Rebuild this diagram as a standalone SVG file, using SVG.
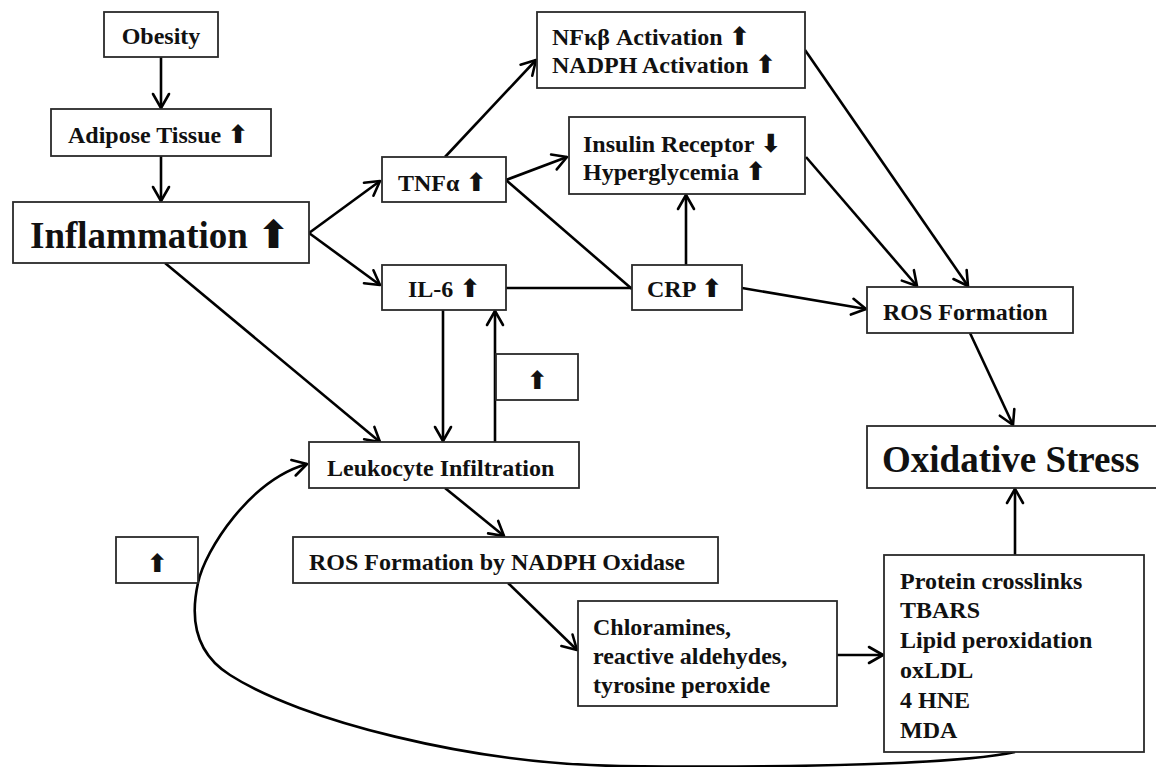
<svg xmlns="http://www.w3.org/2000/svg" width="1156" height="767" viewBox="0 0 1156 767">
<style>
.box{fill:#fff;stroke:#2a2a2a;stroke-width:1.8}
.t{font-family:"Liberation Serif","Times New Roman",serif;font-weight:bold;font-size:24px;fill:#111}
.big{font-size:37px}
.ar{font-family:"DejaVu Sans",sans-serif;font-weight:bold;font-size:1.05em}
.c{fill:none;stroke:#000;stroke-width:2.6}
</style>
<defs>
<marker id="ah" viewBox="0 0 18 20" refX="16" refY="10" markerWidth="18" markerHeight="20" markerUnits="userSpaceOnUse" orient="auto">
<path d="M2,2 L16,10 L2,18" fill="none" stroke="#000" stroke-width="2.6" stroke-linecap="round" stroke-linejoin="round"/>
</marker>
</defs>
<rect width="1156" height="767" fill="#fff"/>
<g id="connectors">
<line class="c" x1="161" y1="57" x2="161" y2="108" marker-end="url(#ah)"/>
<line class="c" x1="161" y1="156" x2="161" y2="201" marker-end="url(#ah)"/>
<line class="c" x1="309" y1="233" x2="380" y2="181" marker-end="url(#ah)"/>
<line class="c" x1="309" y1="233" x2="380" y2="285" marker-end="url(#ah)"/>
<line class="c" x1="165" y1="263" x2="380" y2="442" marker-end="url(#ah)"/>
<line class="c" x1="445" y1="157" x2="536" y2="60" marker-end="url(#ah)"/>
<line class="c" x1="506" y1="180" x2="567" y2="157" marker-end="url(#ah)"/>
<line class="c" x1="506" y1="180" x2="632" y2="289"/>
<line class="c" x1="506" y1="288" x2="632" y2="288"/>
<line class="c" x1="686" y1="265" x2="686" y2="195" marker-end="url(#ah)"/>
<line class="c" x1="742" y1="288" x2="866" y2="309" marker-end="url(#ah)"/>
<line class="c" x1="805" y1="50" x2="968" y2="286" marker-end="url(#ah)"/>
<line class="c" x1="806" y1="157" x2="917" y2="286" marker-end="url(#ah)"/>
<line class="c" x1="970" y1="333" x2="1013" y2="425" marker-end="url(#ah)"/>
<line class="c" x1="443" y1="310" x2="443" y2="441" marker-end="url(#ah)"/>
<line class="c" x1="495" y1="442" x2="495" y2="311" marker-end="url(#ah)"/>
<line class="c" x1="445" y1="488" x2="504" y2="536" marker-end="url(#ah)"/>
<line class="c" x1="508" y1="583" x2="577" y2="650" marker-end="url(#ah)"/>
<line class="c" x1="837" y1="655" x2="883" y2="655" marker-end="url(#ah)"/>
<line class="c" x1="1015" y1="555" x2="1015" y2="489" marker-end="url(#ah)"/>
<path class="c" d="M1015,752 C960,764 800,768 620,766 C470,764 300,720 230,675 C190,650 192,610 198,583 C205,550 250,480 307,464" marker-end="url(#ah)"/>
</g>
<g id="n-obesity"><rect class="box" x="104" y="12" width="114" height="45"/><text class="t" x="161" y="44" text-anchor="middle">Obesity</text></g>
<g id="n-adipose"><rect class="box" x="51" y="109" width="220" height="47"/><text class="t" x="68" y="143">Adipose Tissue <tspan class="ar">⬆</tspan></text></g>
<g id="n-inflammation"><rect class="box" x="13" y="202" width="296" height="61"/><text class="t big" x="30" y="248">Inflammation <tspan class="ar">⬆</tspan></text></g>
<g id="n-tnf"><rect class="box" x="382" y="157" width="124" height="45"/><text class="t" x="398" y="191">TNFα <tspan class="ar">⬆</tspan></text></g>
<g id="n-il6"><rect class="box" x="382" y="265" width="124" height="45"/><text class="t" x="408" y="297">IL-6 <tspan class="ar">⬆</tspan></text></g>
<g id="n-crp"><rect class="box" x="632" y="265" width="110" height="45"/><text class="t" x="647" y="297">CRP <tspan class="ar">⬆</tspan></text></g>
<g id="n-nfkb"><rect class="box" x="537" y="12" width="268" height="76"/><text class="t" x="552" y="45">NFκβ Activation <tspan class="ar">⬆</tspan></text><text class="t" x="552" y="73">NADPH Activation <tspan class="ar">⬆</tspan></text></g>
<g id="n-insulin"><rect class="box" x="569" y="117" width="236" height="77"/><text class="t" x="583" y="152">Insulin Receptor <tspan class="ar">⬇</tspan></text><text class="t" x="583" y="180">Hyperglycemia <tspan class="ar">⬆</tspan></text></g>
<g id="n-ros"><rect class="box" x="867" y="287" width="206" height="46"/><text class="t" x="883" y="320">ROS Formation</text></g>
<g id="n-oxstress"><rect class="box" x="867" y="426" width="290" height="62"/><text class="t big" x="882" y="472">Oxidative Stress</text></g>
<g id="n-up1"><rect class="box" x="496" y="354" width="82" height="46"/><text class="t" x="537" y="389" text-anchor="middle"><tspan class="ar">⬆</tspan></text></g>
<g id="n-leuko"><rect class="box" x="309" y="442" width="270" height="46"/><text class="t" x="327" y="476">Leukocyte Infiltration</text></g>
<g id="n-up2"><rect class="box" x="116" y="537" width="82" height="46"/><text class="t" x="157" y="572" text-anchor="middle"><tspan class="ar">⬆</tspan></text></g>
<g id="n-rosnadph"><rect class="box" x="293" y="537" width="425" height="46"/><text class="t" x="309" y="570">ROS Formation by NADPH Oxidase</text></g>
<g id="n-chlor"><rect class="box" x="578" y="601" width="259" height="105"/><text class="t" x="593" y="635">Chloramines,</text><text class="t" x="593" y="664">reactive aldehydes,</text><text class="t" x="593" y="693">tyrosine peroxide</text></g>
<g id="n-markers"><rect class="box" x="884" y="555" width="260" height="197"/><text class="t" x="900" y="589">Protein crosslinks</text><text class="t" x="900" y="618">TBARS</text><text class="t" x="900" y="648">Lipid peroxidation</text><text class="t" x="900" y="678">oxLDL</text><text class="t" x="900" y="708">4 HNE</text><text class="t" x="900" y="738">MDA</text></g>
</svg>
